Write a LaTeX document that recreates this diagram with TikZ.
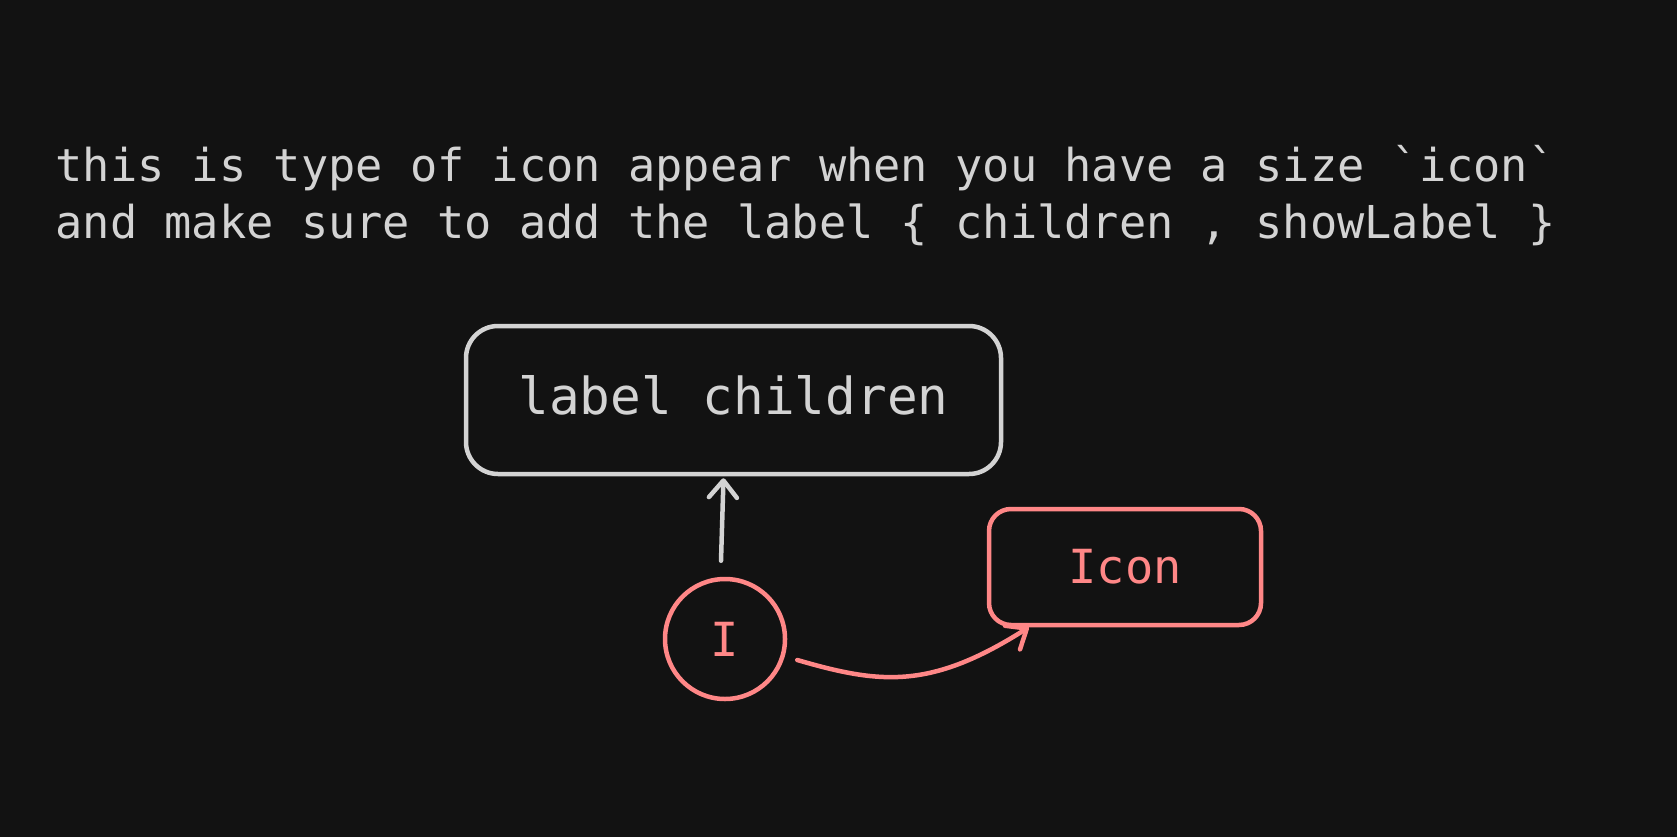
\documentclass[tikz,border=0pt]{standalone}
\usepackage{fontspec}
\setmonofont{DejaVu Sans Mono}
\usetikzlibrary{arrows.meta}
\definecolor{bg}{HTML}{121212}
\definecolor{ink}{HTML}{D3D3D3}
\definecolor{iconred}{HTML}{FF8787}

\begin{document}
\begin{tikzpicture}[x=1pt,y=-1pt,
  box/.style={draw,line width=4.5pt,inner sep=0pt},
  note/.style={anchor=base west,text=ink,font=\ttfamily\fontsize{45.3}{54}\selectfont},
  >={Straight Barb[length=17pt,width=28pt,round]}, line width=4.5pt]

% background fixes the page size
\fill[bg] (0,0) rectangle (1677,837);

\node[note] (line1) at (50,182) {this is type of icon appear when you have a size `icon`};
\node[note] (line2) at (50,238) {and make sure to add the label \{ children , showLabel \}};

\node[box,draw=ink,text=ink,rounded corners=32pt,minimum width=535pt,minimum height=148pt,
  text depth=11pt,font=\ttfamily\fontsize{51}{60}\selectfont] (lbl) at (733.5,400) {label children};
\node[box,draw=iconred,text=iconred,rounded corners=22pt,minimum width=272pt,minimum height=116pt,
  font=\ttfamily\fontsize{47}{56}\selectfont] (icn) at (1125,567) {Icon};
\node[box,circle,draw=iconred,text=iconred,minimum size=120pt,
  font=\ttfamily\fontsize{47}{56}\selectfont] (ic) at (725,639) {I};

\coordinate (ic-out) at ([shift={(10,21)}]ic.east);
\draw[->,ink,line cap=round] ([shift={(-4,-16)}]ic.north) -- ([shift={(-10,2)}]lbl.south);
\draw[->,iconred,line cap=round] (ic-out) .. controls (880,684) and (930,690) .. ([xshift=42pt]icn.south west);
\end{tikzpicture}
\end{document}
